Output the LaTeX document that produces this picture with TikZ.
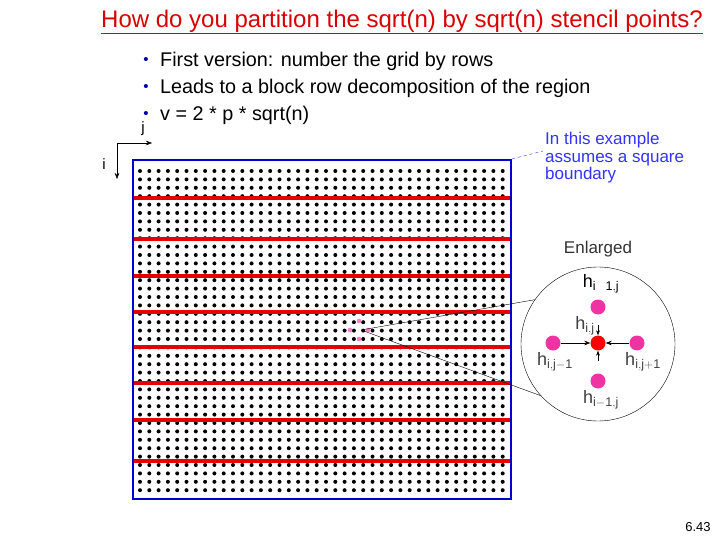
\documentclass[tikz,border=0pt]{standalone}
\usepackage{fontspec}
\setmainfont{Liberation Sans}
\usetikzlibrary{arrows.meta}
\begin{document}
\begin{tikzpicture}[x=1pt,y=-1pt,
  redline/.style={red!90!black,line width=3.4pt},
  sdot/.style={circle,fill=magenta!80!white,inner sep=0pt,minimum size=15pt},
  hlab/.style={text=black!75,font=\fontsize{18}{18}\selectfont,inner sep=0pt}]
\useasboundingbox (0,0) rectangle (720,540);
\node[text=red!85!black,font=\fontsize{24}{26}\selectfont,inner sep=0pt] (title) at (402,22) {\underline{How do you partition the sqrt(n) by sqrt(n) stencil points?}};
\foreach \t [count=\k] in {First version: number the grid by rows,Leads to a block row decomposition of the region,v = 2 * p * sqrt(n)}{
  \node[anchor=west,font=\fontsize{19.8}{22}\selectfont,inner sep=0pt] (b\k) at (160,{34+27*\k}) {\t};
  \node[anchor=center,text=blue!70!black,font=\fontsize{15}{15}\selectfont,inner sep=0pt] at (146,{34+27*\k}) {•};
}
% axes
\coordinate (o) at (117,143);
\coordinate (jx) at (152,143);
\coordinate (iy) at (117,179);
\draw[-{Stealth[length=6pt]}] (o) -- (jx);
\draw[-{Stealth[length=6pt]}] (o) -- (iy);
\node[font=\rmfamily\fontsize{15}{15}\selectfont] (jl) at (143,129) {j};
\node[font=\rmfamily\fontsize{15}{15}\selectfont] (il) at (104,164) {i};
% grid
\foreach \r in {0,...,38}{
  \foreach \c in {0,...,39}{
    \fill ({140+\c*9.3},{171+\r*8.4}) circle (2pt);
  }
}
\foreach \y in {198,239,276,312,347,383,420,461}{
  \draw[redline] (134,\y) -- (510,\y);
}
\node[draw=blue!80!black,line width=2.2pt,minimum width=378pt,minimum height=339pt,inner sep=0pt] (box) at (322,329.5) {};
% small stencil
\foreach \dx/\dy in {0/-9,-9/0,9/0,0/9}{
  \fill[magenta!50] ({359+\dx},{330+\dy}) circle (2.3pt);
}
\coordinate (sc) at (361,330);
% enlarged
\node[draw,circle,minimum size=154pt,inner sep=0pt] (big) at (598,344) {};
\draw (sc) -- (big.145);
\draw (sc) -- (big.222);
\node[font=\fontsize{17}{17}\selectfont,text=black!80] (enl) at (598,249) {Enlarged};
\node[sdot] (t) at (598,307) {};
\node[sdot] (l) at (553,343) {};
\node[sdot,fill=red] (c) at (598,343) {};
\node[sdot] (r) at (637,343) {};
\node[sdot] (bt) at (598,381) {};
\draw[-{Stealth[length=6pt]}] (l) -- (c);
\draw[-{Stealth[length=6pt]}] (r) -- (c);
\draw[-{Stealth[length=5pt]}] (598,325) -- (c.north);
\draw[-{Stealth[length=5pt]}] (598,361) -- (c.south);
\node[hlab,text=black] at (601,284) {h$_{\mathrm{i}\ \ \mathrm{1,j}}$};
\node[hlab] at (585,326) {h$_{\mathrm{i,j}}$};
\node[hlab] at (555,362) {h$_{\mathrm{i,j-1}}$};
\node[hlab] at (643,362) {h$_{\mathrm{i,j+1}}$};
\node[hlab] at (601,400) {h$_{\mathrm{i-1,j}}$};
% callout
\node[anchor=north west,align=left,text=blue!80!white,font=\fontsize{17}{17.5}\selectfont,inner sep=0pt] (note) at (545,132) {In this example\\assumes a square\\boundary};
\draw[blue!80!white,dashed] (box.north east) -- (543,151);
\node[font=\fontsize{13}{13}\selectfont] (pg) at (698,527) {6.43};
\end{tikzpicture}
\end{document}
